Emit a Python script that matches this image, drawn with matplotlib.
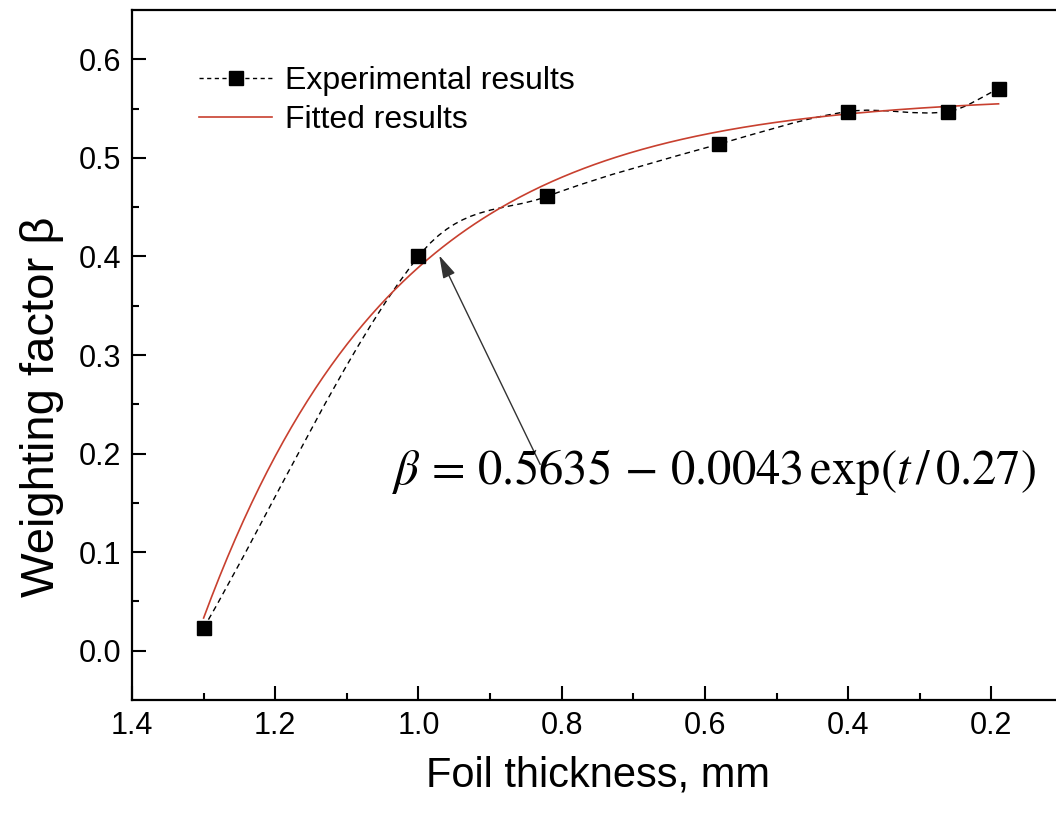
import numpy as np
import matplotlib
matplotlib.use('Agg')
import matplotlib.pyplot as plt
from matplotlib.path import Path
from matplotlib.patches import PathPatch
from matplotlib.lines import Line2D

# experimental points
thickness = [1.30, 1.00, 0.82, 0.58, 0.40, 0.26, 0.19]
beta_exp = [0.023, 0.400, 0.461, 0.514, 0.547, 0.547, 0.570]

# fitted curve coefficients (from the equation printed on the chart)
fit_a = 0.5635
fit_b = 0.0043
fit_c = 0.27

x_ticks = [1.4, 1.2, 1.0, 0.8, 0.6, 0.4, 0.2]
y_ticks = [0.0, 0.1, 0.2, 0.3, 0.4, 0.5, 0.6]

plt.rcParams['font.family'] = ['Liberation Sans', 'DejaVu Sans']
plt.rcParams['mathtext.fontset'] = 'stix'

fig = plt.figure(figsize=(10.56, 8.16), dpi=100)
ax = fig.add_axes([132 / 1056, 116 / 816, 931 / 1056, 690 / 816])

ax.set_xlim(1.4, 0.1)
ax.set_ylim(-0.05, 0.65)

# smooth connection of the experimental points (hermite segments as bezier)
xs = np.array(thickness)
ys = np.array(beta_exp)
n = len(xs)
slopes = np.zeros(n)
slopes[0] = (ys[1] - ys[0]) / (xs[1] - xs[0])
slopes[-1] = (ys[-1] - ys[-2]) / (xs[-1] - xs[-2])
for i in range(1, n - 1):
    slopes[i] = (ys[i + 1] - ys[i - 1]) / (xs[i + 1] - xs[i - 1])
verts = [(xs[0], ys[0])]
codes = [Path.MOVETO]
for i in range(n - 1):
    h = xs[i + 1] - xs[i]
    verts += [(xs[i] + h / 3, ys[i] + slopes[i] * h / 3),
              (xs[i + 1] - h / 3, ys[i + 1] - slopes[i + 1] * h / 3),
              (xs[i + 1], ys[i + 1])]
    codes += [Path.CURVE4] * 3
ax.add_patch(PathPatch(Path(verts, codes), facecolor='none', edgecolor='black',
                       lw=1.0, linestyle=(0, (4, 3)), zorder=2))

t = np.linspace(thickness[0], thickness[-1], 300)
ax.plot(t, fit_a - fit_b * np.exp(t / fit_c), color='#c8402f', lw=1.2, zorder=3)

ax.plot(thickness, beta_exp, linestyle='none', marker='s', markersize=10.5,
        color='black', zorder=4)

# legend
h1 = Line2D([], [], color='black', lw=1.0, linestyle=(0, (3, 2.5)), marker='s',
            markersize=10.5)
h2 = Line2D([], [], color='#c8402f', lw=1.2)
leg = ax.legend([h1, h2], ['Experimental results', 'Fitted results'],
                loc='upper left', bbox_to_anchor=(0.058, 0.937), frameon=False,
                fontsize=23, handlelength=2.3, handletextpad=0.4,
                labelspacing=0.28, borderaxespad=0)

# annotation
ax.annotate('', xy=(0.971, 0.401), xytext=(0.830, 0.189),
            arrowprops=dict(arrowstyle='-|>,head_length=1.4,head_width=0.4',
                            color='#333333', lw=1.0, shrinkA=0, shrinkB=0))
fig.text(392 / 1056, 1 - 472 / 816,
         r'$\beta\,=\,0.5635\,-\,0.0043\,\mathrm{exp}(t\,/\,0.27)$',
         fontsize=35, va='center', ha='left')

ax.set_xticks(x_ticks)
ax.set_xticklabels([f'{v:.1f}' for v in x_ticks])
ax.set_xticks([1.3, 1.1, 0.9, 0.7, 0.5, 0.3, 0.1], minor=True)
ax.set_yticks(y_ticks)
ax.set_yticklabels([f'{v:.1f}' for v in y_ticks])
ax.set_yticks([0.05, 0.15, 0.25, 0.35, 0.45, 0.55], minor=True)

ax.tick_params(which='both', direction='in', width=1.5, labelsize=22,
               top=False, right=False)
ax.tick_params(which='major', length=10, pad=8)
ax.tick_params(which='minor', length=5)
for s in ax.spines.values():
    s.set_linewidth(1.6)

ax.set_xlabel('Foil thickness, mm', fontsize=30, labelpad=10)
ax.set_ylabel('Weighting factor β', fontsize=34)
ax.yaxis.set_label_coords(-0.073, 0.425)

fig.savefig('out.png', dpi=100)
